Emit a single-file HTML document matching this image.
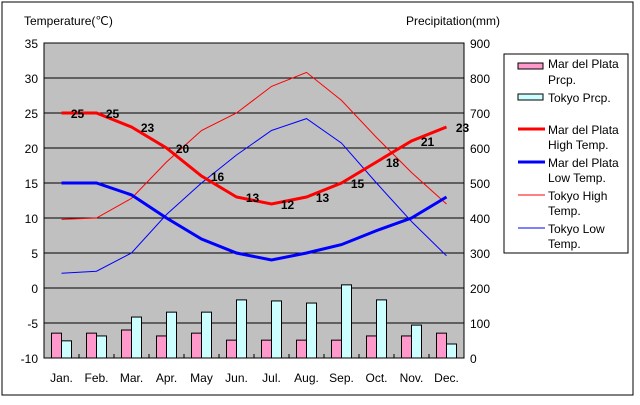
<!DOCTYPE html>
<html><head><meta charset="utf-8"><style>
body{margin:0;background:#fff}
svg text{font-family:"Liberation Sans",sans-serif;font-size:12px;fill:#000}
</style></head><body>
<svg width="640" height="400">
<rect x="2" y="2" width="631" height="393" fill="#fff" stroke="#000"/>
<rect x="44" y="43" width="420" height="315" fill="#c0c0c0" stroke="#000"/>
<text x="24" y="25">Temperature(℃)</text>
<text x="406" y="25">Precipitation(mm)</text>
<g id="grid"></g><g id="bars"></g><g id="lines"></g><g id="labels"></g>
<g>
<rect x="504" y="54" width="124" height="199" fill="#fff" stroke="#000"/>
<rect x="518" y="63" width="25" height="6" fill="#ff99cc" stroke="#000"/>
<text x="548" y="68">Mar del Plata</text><text x="548" y="84">Prcp.</text>
<rect x="518" y="94" width="25" height="6" fill="#ccffff" stroke="#000"/>
<text x="548" y="102">Tokyo Prcp.</text>
<line x1="518" y1="129" x2="545" y2="129" stroke="#f00" stroke-width="3"/>
<text x="548" y="134">Mar del Plata</text><text x="548" y="149">High Temp.</text>
<line x1="518" y1="162" x2="545" y2="162" stroke="#00f" stroke-width="3"/>
<text x="548" y="167">Mar del Plata</text><text x="548" y="182">Low Temp.</text>
<line x1="518" y1="195" x2="545" y2="195" stroke="#f00" stroke-width="1"/>
<text x="548" y="200">Tokyo High</text><text x="548" y="215">Temp.</text>
<line x1="518" y1="228" x2="545" y2="228" stroke="#00f" stroke-width="1"/>
<text x="548" y="233">Tokyo Low</text><text x="548" y="248">Temp.</text>
</g>
</svg>
<script>
const months=["Jan.","Feb.","Mar.","Apr.","May","Jun.","Jul.","Aug.","Sep.","Oct.","Nov.","Dec."];
const mdpPrcp=[71,71,80,63,71,51,51,51,51,63,63,71];
const tokyoPrcp=[49,63,117,131,131,166,163,157,209,166,94,40];
const mdpHigh=[25,25,23,20,16,13,12,13,15,18,21,23];
const mdpLow=[15,15,13.3,10,7,5,4,5,6.2,8.2,10,13];
const tokyoHigh=[9.8,10,12.8,18,22.5,25,28.8,30.8,26.8,21.5,16.5,12];
const tokyoLow=[2.1,2.4,5,10.5,15,19,22.5,24.2,20.7,15,9.5,4.6];
const tempTicks=[35,30,25,20,15,10,5,0,-5,-10];
const prcpTicks=[900,800,700,600,500,400,300,200,100,0];
const NS="http://www.w3.org/2000/svg";
const L=44,W=420,T=43,H=315;
const xC=i=>L+W/12*(i+0.5);
const yT=v=>T+(35-v)/45*H;
const yP=v=>T+H-v/900*H;
function mk(tag,attrs,parent,txt){const e=document.createElementNS(NS,tag);for(const k in attrs)e.setAttribute(k,attrs[k]);if(txt!=null)e.textContent=txt;document.getElementById(parent).appendChild(e);return e;}
tempTicks.forEach(v=>{
 if(v<35&&v>-10){const g=mk("line",{x1:L,x2:L+W,y1:yT(v),y2:yT(v),stroke:"#000"},"grid");
 
 }
 const t=mk("text",{x:38,y:yT(v)+5,"text-anchor":"end"},"grid",v);
 
 
});
prcpTicks.forEach(v=>{
 const t=mk("text",{x:470,y:yP(v)+5},"grid",v);
 
 
});
months.forEach((m,i)=>{
 const t=mk("text",{x:xC(i),y:382,"text-anchor":"middle"},"grid",m);
 
 
 if(i>0){const tk=mk("line",{x1:L+W/12*i,x2:L+W/12*i,y1:T+H,y2:T+H-4,stroke:"#000"},"grid");
 
 }
 const b1=mk("rect",{x:xC(i)-10,y:yP(mdpPrcp[i]),width:10,height:yP(0)-yP(mdpPrcp[i]),fill:"#ff99cc",stroke:"#000"},"bars");
 
 
 const b2=mk("rect",{x:xC(i),y:yP(tokyoPrcp[i]),width:10,height:yP(0)-yP(tokyoPrcp[i]),fill:"#ccffff",stroke:"#000"},"bars");
 
 
});
function line(arr,col,w,name){
 const p=mk("polyline",{points:arr.map((v,i)=>xC(i)+","+yT(v)).join(" "),fill:"none",stroke:col,"stroke-width":w},"lines");
 
 
}
line(tokyoHigh,"#f00",1,"tokyo-high-line");
line(tokyoLow,"#00f",1,"tokyo-low-line");
line(mdpLow,"#00f",3,"mdp-low-line");
line(mdpHigh,"#f00",3,"mdp-high-line");
mdpHigh.forEach((v,i)=>{
 const t=mk("text",{x:xC(i)+16,y:yT(v)+5,"text-anchor":"middle","font-weight":"bold","font-size":"14"},"labels",v);
 
 
});
</script>
</body></html>
